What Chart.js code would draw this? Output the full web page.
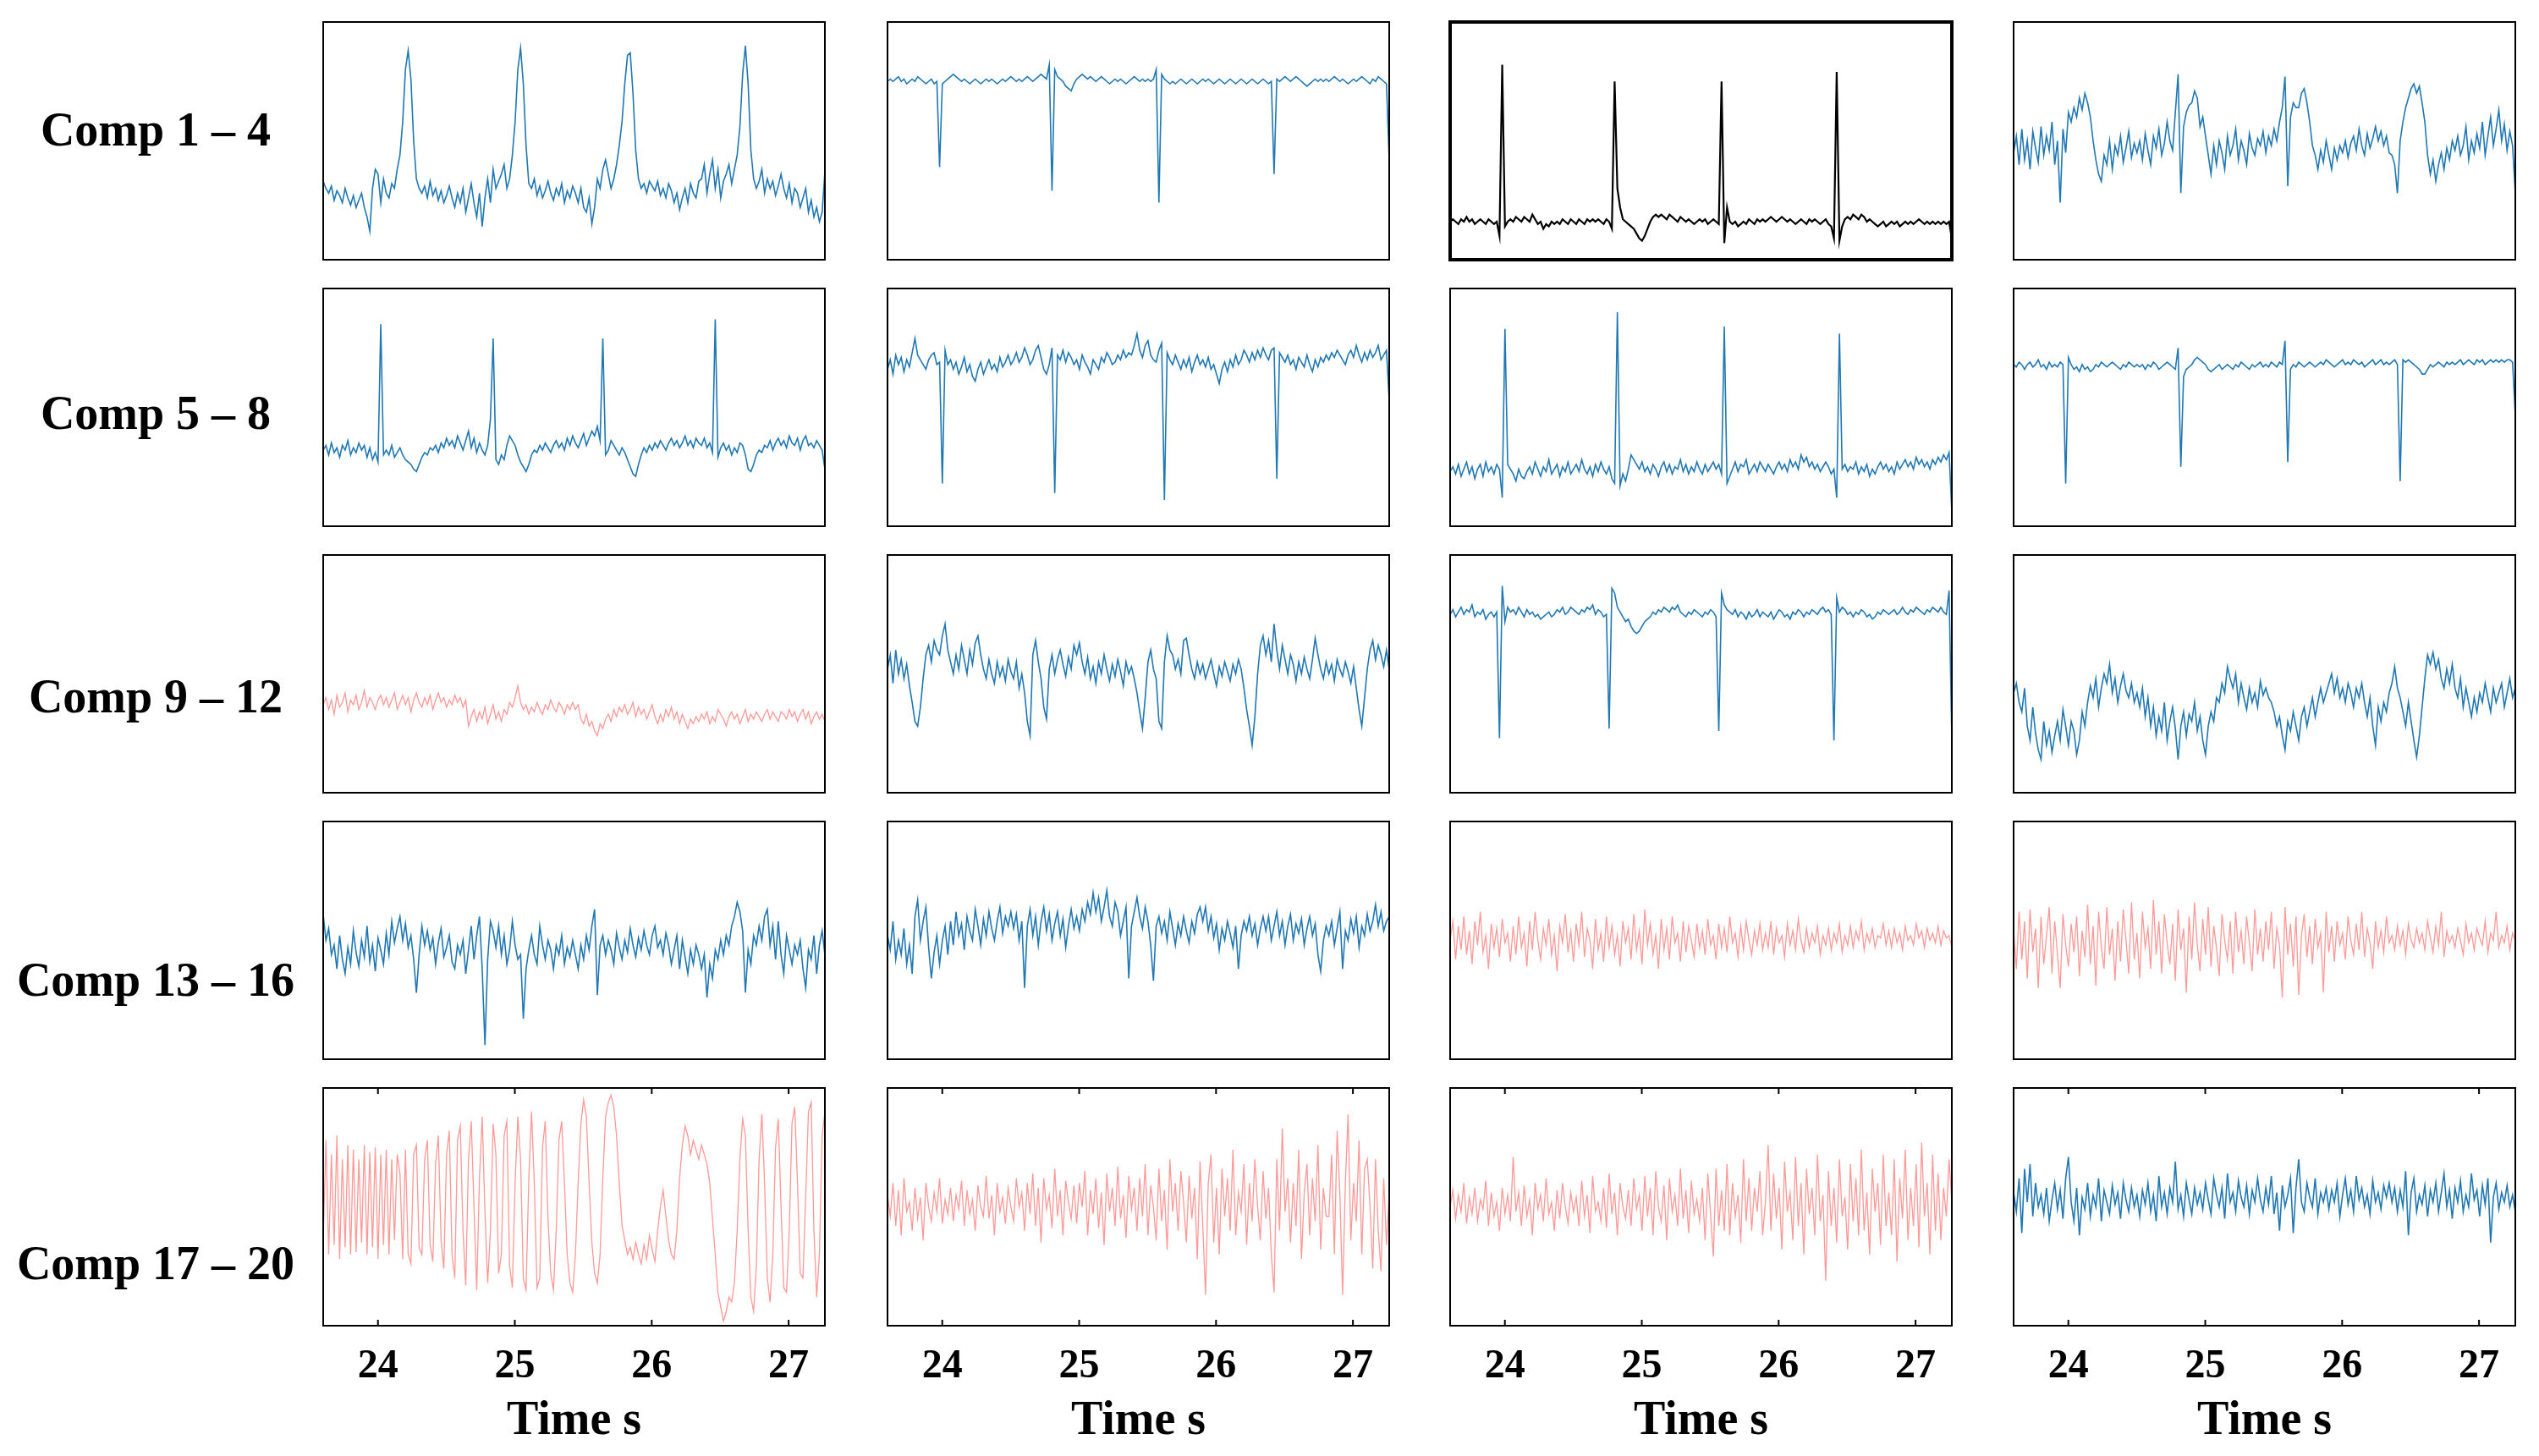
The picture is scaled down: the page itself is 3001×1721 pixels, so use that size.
<!DOCTYPE html>
<html>
<head>
<meta charset="UTF-8">
<title>Components 1 - 20</title>
<script src="https://cdn.jsdelivr.net/npm/chart.js"></script>
<style>
	body {
		margin: 0;
		background: #fff;
		width: 3001px;
		height: 1721px;
		position: relative;
		overflow: hidden;
		font-family: "Liberation Serif", "Times New Roman", serif;
	}
	.panel { position: absolute; }
	.rowLabel {
		position: absolute;
		left: 0;
		width: 368px;
		text-align: center;
		font-weight: bold;
		font-size: 56px;
		line-height: 56px;
		color: #000;
		white-space: nowrap;
	}
</style>
</head>
<body>
<script>
// time window (s) and ticks
const tStart = 23.6;
const tEnd = 27.265;
const xTicks = [24, 25, 26, 27];
const rowLabels = ['Comp 1 \u2013 4', 'Comp 5 \u2013 8', 'Comp 9 \u2013 12', 'Comp 13 \u2013 16', 'Comp 17 \u2013 20'];

// component signals, evenly sampled over the window (relative units)
const comp1 = [
	33,30,28,31,25,29,27,24,30,26,23,27,22,25,28,22,18,12,30,38,36,24,34,
	28,26,32,30,38,44,58,80,88,76,50,34,30,28,31,26,33,27,30,25,29,24,27,
	31,26,22,28,24,30,20,26,32,24,18,28,14,26,34,24,38,30,33,36,40,30,34,
	44,58,80,89,74,48,32,30,34,27,31,26,29,33,28,25,30,27,32,24,29,26,31,
	28,24,30,22,20,26,15,22,34,30,38,42,36,30,34,40,48,58,74,86,87,70,46,
	34,30,32,28,33,31,29,33,27,30,26,32,29,24,28,21,26,30,24,32,28,26,33,
	34,40,28,36,42,30,38,26,33,36,40,32,38,44,56,78,90,74,46,34,30,33,38,
	28,34,30,33,27,31,36,30,26,32,24,30,28,22,26,30,20,25,18,22,16,20,37
];
const comp2 = [
	75,76,75,76,77,75,76,74,75,76,75,77,76,75,74,75,76,74,75,39,74,75,76,
	77,78,77,76,75,76,75,74,75,76,75,74,75,76,75,76,75,74,75,76,75,76,77,
	76,75,76,75,76,77,76,75,76,77,78,77,76,82,29,80,77,76,75,73,72,71,74,
	76,77,78,77,76,77,76,75,76,77,76,75,74,75,76,75,76,75,74,75,76,77,76,
	75,76,75,76,75,76,80,24,78,76,75,74,75,74,75,76,75,74,75,76,75,74,75,
	76,75,76,75,74,75,76,75,74,75,76,75,74,75,76,75,74,75,76,75,74,75,76,
	75,74,75,36,76,75,76,77,76,75,76,77,76,75,74,73,74,75,76,75,76,75,76,
	75,76,77,76,75,76,75,74,75,76,75,76,77,76,75,74,76,75,77,76,75,74,42
];
const comp3 = [
	16,17,16,15,17,16,18,16,17,15,16,17,16,15,17,16,15,16,10,82,14,16,17,
	16,18,17,16,18,17,16,19,17,15,16,13,15,14,16,15,16,15,17,16,15,17,16,
	15,17,16,15,17,16,17,16,17,16,15,17,16,13,75,30,22,17,16,15,14,13,11,
	9,8,10,13,16,18,19,18,19,18,17,19,18,17,16,18,17,16,17,16,15,16,17,
	16,17,15,16,17,16,15,75,7,22,16,15,16,14,15,16,15,17,16,15,17,16,17,
	16,17,18,17,16,17,18,17,16,17,16,15,16,17,16,15,17,16,17,16,15,16,17,
	15,14,9,79,8,14,17,18,17,19,18,17,19,18,16,17,16,15,14,15,16,14,15,
	16,15,16,14,15,16,15,16,15,16,17,16,15,16,15,16,15,16,15,16,15,16,9
];
const comp4 = [
	45,52,40,55,42,50,38,54,47,41,56,44,52,46,58,40,50,24,55,45,62,58,64,
	60,68,63,70,66,60,50,42,36,33,44,40,50,38,48,44,52,41,47,54,43,49,45,
	50,42,53,46,40,52,47,55,44,49,58,50,46,62,78,28,56,62,65,66,71,68,56,
	60,52,44,36,48,40,50,45,38,52,44,48,55,42,50,46,40,53,47,44,51,48,54,
	45,52,48,55,50,58,64,77,31,60,66,64,64,70,72,66,58,48,44,38,46,41,50,
	44,38,47,42,48,45,50,43,49,52,46,55,48,44,53,47,51,56,50,54,48,52,45,
	44,40,28,50,58,64,68,72,74,70,73,66,58,44,36,42,33,40,45,38,47,42,50,
	46,52,44,48,56,42,50,45,53,47,58,44,52,60,48,55,63,50,57,46,54,48,28
];
const comp5 = [
	32,34,30,35,31,33,29,34,32,36,30,33,31,35,32,34,29,33,28,31,27,85,30,
	32,30,34,29,31,33,30,28,27,26,24,23,26,29,31,30,33,32,34,31,35,33,37,
	34,36,33,38,35,32,36,40,33,37,31,35,32,30,34,45,79,28,26,30,28,34,38,
	36,34,30,27,25,23,26,30,32,31,34,32,35,33,31,34,36,33,35,32,37,34,38,
	35,33,36,39,34,37,40,38,42,36,79,30,32,36,34,32,30,33,31,28,25,22,21,
	26,30,33,31,34,32,35,33,36,34,32,35,37,34,36,33,35,38,34,36,33,37,35,
	34,37,33,35,31,87,29,33,35,32,34,30,33,31,35,34,30,24,23,26,30,32,31,
	34,33,36,32,35,37,34,36,33,38,35,34,37,32,36,38,34,35,33,36,34,32,24
];
const comp6 = [
	66,70,64,72,68,71,65,70,67,73,79,72,70,68,66,70,72,73,68,69,18,74,68,
	70,66,69,64,67,71,65,68,63,61,66,69,64,67,70,66,68,65,71,67,69,72,68,
	70,73,69,71,75,72,68,70,74,76,71,66,64,68,75,14,72,70,74,69,73,71,68,
	70,66,72,69,67,64,70,68,66,71,69,73,71,68,69,72,70,74,71,73,72,76,81,
	74,71,76,78,72,70,69,74,77,11,73,70,68,72,69,66,70,67,71,65,69,72,68,
	70,67,71,66,68,64,60,66,69,65,70,67,72,68,70,74,72,69,73,70,74,71,75,
	72,70,74,75,20,73,71,69,72,68,70,66,71,69,67,72,68,65,70,67,71,69,72,
	70,73,71,74,72,70,68,72,74,71,76,72,69,73,70,74,71,73,76,70,72,74,53
];
const comp7 = [
	23,25,22,26,21,24,27,22,25,20,24,26,21,27,23,25,22,26,24,12,83,26,24,
	22,19,24,21,20,23,25,22,27,24,21,25,23,28,22,24,26,21,25,23,27,22,24,
	26,23,28,24,22,25,21,26,23,27,24,22,25,20,18,90,17,22,19,24,30,28,26,
	24,27,23,25,22,26,24,21,25,27,23,26,22,25,24,28,23,26,22,25,23,27,24,
	22,26,23,25,27,24,26,22,84,18,21,24,27,23,26,25,28,22,24,26,23,27,25,
	23,26,24,22,25,27,24,26,23,28,25,27,24,30,27,29,25,27,24,26,23,25,27,
	25,22,24,12,81,24,26,23,25,24,27,22,25,23,26,21,24,22,25,27,24,26,23,
	25,22,27,24,26,28,25,27,24,29,26,28,25,27,24,28,26,29,27,30,28,31,6
];
const comp8 = [
	68,67,69,68,66,68,69,67,68,70,67,68,66,69,67,68,67,69,68,18,71,68,66,
	67,65,68,66,67,65,66,68,67,69,68,67,68,69,68,67,66,68,67,69,68,67,68,
	67,68,66,68,67,69,68,66,67,68,69,68,67,66,75,25,63,66,67,68,70,71,70,
	69,68,66,65,66,67,68,66,67,68,67,66,68,67,69,68,67,66,68,67,68,69,67,
	68,67,69,68,67,69,68,78,27,66,68,67,69,68,67,68,69,68,67,68,69,68,70,
	69,68,67,68,69,70,68,69,68,70,69,68,69,67,68,69,70,68,69,70,68,69,68,
	69,70,68,19,70,69,70,69,68,67,66,64,64,66,68,67,68,69,68,67,69,68,69,
	68,69,70,68,69,70,69,68,70,69,70,68,69,70,69,70,69,70,69,70,70,69,47
];
const comp9 = [
	37,40,35,39,33,41,36,38,42,34,39,37,41,35,38,43,36,40,38,35,39,41,37,
	40,36,39,42,35,38,41,37,40,34,39,42,38,36,40,37,41,35,39,42,38,40,36,
	39,37,41,38,40,36,39,28,32,35,30,34,31,36,29,33,37,31,34,30,35,33,38,
	36,40,45,38,35,37,33,36,34,38,35,33,37,35,39,36,34,38,36,33,37,35,38,
	35,37,31,29,33,28,30,26,24,29,27,31,33,30,35,32,36,34,37,33,35,38,32,
	36,33,35,31,34,37,32,29,33,30,35,32,36,31,34,29,33,30,27,31,29,32,30,
	33,31,34,29,32,30,35,33,31,28,32,34,31,33,29,32,35,30,33,31,34,32,30,
	33,35,31,34,32,30,34,33,31,35,32,34,30,33,35,31,34,29,32,34,31,33,30
];
const comp10 = [
	52,58,46,60,50,56,48,54,45,38,30,28,36,48,58,62,55,64,60,58,66,71,60,
	55,50,58,52,62,56,50,60,54,63,66,58,52,48,56,50,46,55,49,53,47,56,51,
	48,55,44,50,42,30,24,58,64,55,48,36,31,52,58,50,56,60,54,49,57,52,62,
	58,63,55,50,57,48,53,46,55,50,58,52,47,54,49,56,51,45,55,50,53,48,42,
	34,27,40,55,60,52,48,30,27,55,66,60,58,52,56,50,64,65,58,52,48,55,50,
	54,48,52,56,50,45,53,49,55,51,47,54,50,56,52,44,35,28,20,32,50,62,66,
	58,64,55,71,60,52,62,56,50,58,54,47,55,50,57,52,48,56,65,58,52,48,55,
	50,54,47,56,52,49,55,51,46,53,44,35,28,40,52,60,64,56,62,58,53,60,52
];
const comp11 = [
	75,77,74,76,78,75,77,76,79,74,76,75,77,73,75,76,74,76,23,87,72,78,76,
	77,75,78,76,74,77,75,76,74,75,73,74,75,76,74,75,77,76,78,75,76,78,77,
	76,75,77,76,78,77,79,75,77,76,74,75,27,86,84,78,76,74,72,73,70,68,67,
	68,70,72,73,74,76,75,77,76,78,77,76,78,77,79,76,75,74,76,75,77,76,75,
	74,76,75,77,76,74,26,84,79,77,76,75,77,74,76,75,73,76,74,75,77,74,76,
	75,74,76,73,75,77,76,74,75,73,76,75,77,76,74,76,75,77,76,75,77,78,76,
	77,75,22,82,76,78,77,75,76,74,76,75,77,76,74,75,73,74,76,75,77,76,75,
	76,77,75,76,78,76,75,77,76,78,77,76,75,77,76,78,77,76,78,76,75,85,22
];
const comp12 = [
	42,46,38,34,44,28,22,36,25,18,14,30,20,26,17,24,30,22,35,28,20,30,26,
	16,22,34,28,38,45,40,48,36,44,50,46,54,42,48,38,45,50,43,40,46,38,42,
	36,44,32,40,28,36,24,32,26,38,22,30,36,27,14,28,34,24,33,30,38,26,32,
	22,16,28,34,30,40,38,46,42,53,48,44,50,38,46,40,35,44,38,42,36,47,41,
	44,40,38,34,28,32,24,18,30,26,34,28,22,32,36,28,34,40,32,38,44,38,42,
	46,50,42,48,40,44,38,46,42,36,44,40,46,38,32,40,28,20,36,30,38,34,42,
	46,53,44,40,34,28,38,30,22,15,24,36,48,58,54,59,52,56,48,44,52,46,54,
	44,40,48,36,44,38,32,40,34,42,38,46,40,34,44,38,42,46,36,42,48,40,44
];
const comp13 = [
	61,50,55,44,48,38,52,42,36,47,40,54,45,39,50,43,56,41,48,37,51,46,40,
	53,44,58,49,55,60,50,57,47,52,42,28,44,56,48,54,46,51,40,49,55,43,47,
	52,41,38,48,44,50,36,46,56,42,52,60,38,6,42,58,54,47,56,44,52,40,46,
	58,48,42,44,17,38,46,52,44,40,56,48,42,50,46,38,48,44,52,40,47,43,50,
	44,38,48,42,52,46,56,63,27,48,52,44,50,46,40,53,47,42,50,45,55,48,43,
	51,46,54,48,44,52,56,47,50,44,53,48,40,46,52,38,50,43,36,46,40,48,44,
	38,44,26,40,34,46,42,50,44,52,48,56,60,66,62,54,28,46,40,52,48,56,50,
	60,63,48,56,42,58,44,36,52,46,40,48,44,50,38,30,46,42,52,36,48,54,44
];
const comp14 = [
	52,46,58,42,50,44,55,40,48,36,60,67,50,58,64,47,34,45,52,40,50,56,44,
	58,48,62,52,57,46,60,54,50,63,56,48,59,52,62,55,50,58,64,53,60,56,62,
	55,61,50,58,30,56,63,52,60,48,58,64,54,61,50,57,62,52,59,47,56,63,55,
	60,54,63,58,66,61,70,62,68,58,64,71,60,56,66,62,52,58,64,34,56,62,68,
	60,55,64,58,48,33,56,60,53,58,50,62,55,48,57,52,60,54,49,58,53,61,64,
	58,64,54,60,51,57,46,55,50,58,53,47,56,38,52,58,54,60,52,57,48,55,60,
	54,60,50,56,62,52,58,48,56,61,50,57,53,59,48,55,60,52,57,44,37,50,56,
	52,58,48,55,62,38,54,50,59,53,60,47,56,52,61,54,58,65,56,62,54,58,60
];
const comp15 = [
	50,58,42,56,46,60,44,54,40,58,48,62,45,52,38,57,47,55,43,59,49,53,41,
	56,44,60,47,53,39,58,46,62,50,42,55,48,59,44,52,37,56,49,61,45,54,41,
	57,48,62,43,55,50,38,59,46,53,41,60,47,56,44,52,39,58,49,55,42,61,46,
	54,40,63,48,57,44,52,38,59,46,55,42,60,49,53,41,58,45,56,50,43,57,47,
	54,44,59,48,52,42,57,47,55,45,60,49,53,43,56,46,58,50,44,54,48,57,46,
	53,47,58,44,55,49,52,43,57,48,54,46,59,50,45,55,47,53,49,56,44,52,48,
	55,46,53,49,57,45,52,48,56,47,54,50,58,46,53,49,55,47,52,51,57,48,54,
	47,55,49,53,46,56,50,52,48,57,51,54,47,55,50,53,49,56,48,54,51,52,47
];
const comp16 = [
	54,38,62,42,58,34,63,45,55,30,60,40,52,64,36,58,44,30,61,48,39,57,45,
	60,35,54,43,65,40,56,31,62,47,38,64,44,55,33,58,41,63,50,36,66,42,53,
	34,62,47,55,38,67,44,58,36,61,49,40,57,33,63,46,55,28,60,42,66,48,37,
	59,44,64,39,56,47,35,61,50,42,58,36,62,45,54,40,60,49,37,63,44,55,41,
	58,46,62,38,55,48,26,64,44,57,39,60,27,52,61,43,56,40,59,47,53,28,62,
	45,56,41,58,48,53,42,60,50,44,57,46,62,43,55,49,38,58,47,54,45,60,49,
	52,46,56,48,54,44,57,50,47,55,49,53,46,58,51,45,56,48,62,43,54,49,52,
	47,55,50,44,57,49,53,46,55,51,48,58,45,53,50,62,47,52,49,56,46,53,50
];
const comp17 = [
	35,78,30,72,34,80,28,70,33,76,30,74,31,70,35,76,30,73,33,75,28,72,34,
	74,30,70,36,72,64,28,74,30,26,72,76,33,30,70,78,34,27,68,80,36,24,72,
	82,30,20,78,84,40,17,70,86,50,15,62,88,48,18,40,85,72,22,30,80,86,25,
	16,60,88,70,20,15,62,90,60,16,20,75,86,45,22,15,40,78,86,60,30,18,14,
	30,60,85,95,88,60,35,22,18,30,62,88,94,97,92,80,60,42,36,30,33,28,35,
	30,26,34,28,38,32,27,40,50,57,46,36,30,28,40,62,76,84,80,72,78,74,70,
	76,72,68,60,45,30,14,8,2,6,12,10,18,40,70,87,80,40,12,6,25,70,89,
	60,20,10,30,75,87,50,16,14,40,85,92,60,22,20,55,90,94,40,12,30,80,90
];
const comp18 = [
	55,46,60,42,57,38,62,48,52,40,58,45,54,36,60,50,44,56,48,62,43,53,47,
	58,44,55,49,61,42,57,47,53,40,59,50,46,63,45,55,38,60,48,54,43,58,50,
	44,62,50,56,40,60,47,64,42,58,35,62,49,55,41,66,46,57,38,61,52,45,59,
	43,60,50,65,38,57,47,62,41,56,34,64,48,58,42,67,45,55,37,63,49,58,40,
	62,46,68,38,59,50,36,66,44,57,32,70,48,60,40,65,52,35,63,45,58,28,69,
	42,13,60,72,35,58,30,66,46,62,40,74,38,56,48,68,34,60,44,70,50,36,65,
	45,58,30,14,70,40,83,48,62,35,60,42,74,28,56,68,38,62,44,76,32,58,46,
	46,72,30,82,56,13,60,89,36,60,44,78,30,66,70,50,24,70,40,23,62,34,55
];
const comp19 = [
	50,57,45,55,48,60,43,54,47,58,44,53,49,61,42,56,46,52,40,58,47,55,44,
	71,48,56,42,59,46,53,38,60,49,55,44,62,47,52,40,57,45,60,50,43,56,48,
	54,42,61,46,55,39,63,48,52,44,58,41,64,47,56,38,60,50,45,57,42,62,49,
	55,40,63,46,58,38,65,50,44,59,36,62,48,55,42,66,45,57,39,61,47,53,44,
	58,36,64,47,29,66,42,57,40,68,38,60,46,55,35,70,44,62,40,58,48,65,38,
	52,76,40,64,45,58,32,69,48,56,36,71,42,60,30,66,47,58,38,72,44,55,19,
	65,42,58,35,70,46,54,32,68,44,62,38,74,40,56,30,66,48,60,34,72,42,56,
	38,70,27,62,45,74,36,58,42,68,33,77,46,60,30,72,40,64,36,58,46,70,52
];
const comp20 = [
	56,48,62,39,66,52,68,46,60,50,55,47,58,44,53,60,49,57,45,62,71,52,44,
	58,38,54,49,60,46,55,50,62,44,57,52,47,59,51,56,45,60,53,48,58,50,55,
	46,57,51,60,48,55,44,63,50,56,47,58,52,69,49,55,46,60,53,47,58,51,56,
	49,60,53,47,62,55,50,58,45,64,52,56,48,61,54,50,59,47,57,52,62,53,48,
	58,51,63,47,56,40,59,50,55,62,39,58,70,52,48,60,54,50,62,47,56,52,58,
	49,57,52,60,46,55,62,51,57,48,63,53,58,50,55,47,61,52,56,49,59,54,60,
	52,58,48,57,50,65,38,56,62,48,55,51,59,46,57,52,60,48,56,64,50,57,45,
	58,52,61,48,55,50,64,53,57,46,59,51,62,35,54,60,49,56,52,59,50,55,48
];

const components = [comp1, comp2, comp3, comp4, comp5, comp6, comp7, comp8, comp9, comp10,
	comp11, comp12, comp13, comp14, comp15, comp16, comp17, comp18, comp19, comp20];

// styling
const BLUE = '#1f77b4', PINK = '#ff9896', BLACK = '#000000';
const compColors = [BLUE, BLUE, BLACK, BLUE, BLUE, BLUE, BLUE, BLUE, PINK, BLUE,
	BLUE, BLUE, BLUE, BLUE, PINK, PINK, PINK, PINK, PINK, BLUE];
const fontFam = '"Liberation Serif", "Times New Roman", serif';

const colLeft = [382, 1049, 1714, 2380];
const rowTop = [26, 341, 656, 971, 1286];
const labelTop = [125, 460, 795, 1130, 1465];
const panelW = 593, panelH = 281, pad = 3, axisH = 154;

// box around each panel, with inward ticks on the bottom row
const framePlugin = {
	id: 'frame',
	afterDraw(chart, args, opts) {
		const {ctx, chartArea: a} = chart;
		const x = chart.scales.x;
		ctx.save();
		ctx.strokeStyle = '#000';
		ctx.lineWidth = opts.width;
		ctx.strokeRect(a.left, a.top, a.right - a.left, a.bottom - a.top);
		if (opts.ticks) {
			ctx.lineWidth = 2;
			ctx.beginPath();
			xTicks.forEach(v => {
				const px = x.getPixelForValue(v);
				ctx.moveTo(px, a.bottom);
				ctx.lineTo(px, a.bottom - 7);
				ctx.moveTo(px, a.top);
				ctx.lineTo(px, a.top + 7);
			});
			ctx.stroke();
		}
		ctx.restore();
	}
};

rowLabels.forEach((txt, r) => {
	const d = document.createElement('div');
	d.className = 'rowLabel';
	d.style.top = labelTop[r] + 'px';
	d.textContent = txt;
	document.body.appendChild(d);
});

components.forEach((vals, k) => {
	const r = Math.floor(k / 4), c = k % 4;
	const bottom = r === 4;
	const div = document.createElement('div');
	div.className = 'panel';
	div.style.left = (colLeft[c] - pad) + 'px';
	div.style.top = (rowTop[r] - pad) + 'px';
	div.style.width = (panelW + 2 * pad) + 'px';
	div.style.height = (panelH + 2 * pad + (bottom ? axisH : 0)) + 'px';
	const cv = document.createElement('canvas');
	div.appendChild(cv);
	document.body.appendChild(div);

	const step = (tEnd - tStart) / (vals.length - 1);
	const pts = vals.map((v, i) => ({x: tStart + i * step, y: v}));

	new Chart(cv, {
		type: 'line',
		data: {
			datasets: [{
				data: pts,
				borderColor: compColors[k],
				borderWidth: compColors[k] === PINK ? 1.3 : (k === 2 ? 2.2 : 1.6),
				pointRadius: 0,
				tension: 0,
				fill: false
			}]
		},
		options: {
			responsive: true,
			maintainAspectRatio: false,
			animation: false,
			events: [],
			layout: { padding: pad },
			plugins: {
				legend: { display: false },
				tooltip: { enabled: false },
				frame: { width: k === 2 ? 4 : 2, ticks: bottom }
			},
			scales: {
				x: {
					type: 'linear',
					min: tStart,
					max: tEnd,
					display: bottom,
					afterBuildTicks: s => { s.ticks = xTicks.map(v => ({value: v})); },
					afterFit: s => { s.height = bottom ? axisH : 0; },
					grid: { display: false, drawTicks: false },
					border: { display: false },
					ticks: {
						color: '#000',
						padding: 20,
						maxRotation: 0,
						font: { family: fontFam, size: 48, weight: 'bold' }
					},
					title: {
						display: true,
						text: 'Time s',
						color: '#000',
						padding: { top: 0, bottom: 7 },
						font: { family: fontFam, size: 56, weight: 'bold' }
					}
				},
				y: { display: false, min: 0, max: 100 }
			}
		},
		plugins: [framePlugin]
	});
});
</script>
</body>
</html>
